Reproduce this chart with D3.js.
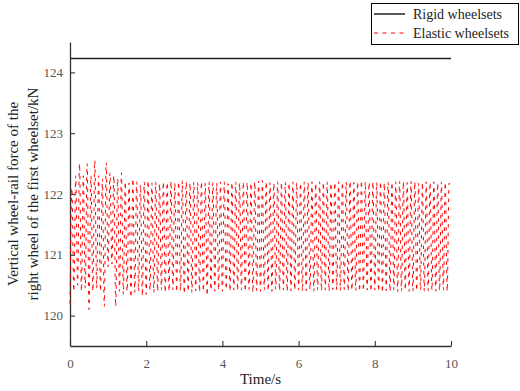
<!DOCTYPE html>
<html>
<head>
<meta charset="utf-8">
<script src="https://cdn.jsdelivr.net/npm/d3@7"></script>
<style>
    body { margin: 0; background: #fff; }
    svg { display: block; }
    svg text { font-family: "Liberation Serif", "Times New Roman", serif; }
</style>
</head>
<body>
<svg width="520" height="391"></svg>
<script>
// Data
const xTicks = [0, 2, 4, 6, 8, 10];
const yTicks = [120, 121, 122, 123, 124];
const seriesNames = ["Rigid wheelsets", "Elastic wheelsets"];

const rigidTime = [0, 10];
const rigidForce = [124.23, 124.23];

// extrema of the elastic wheelset force (troughs and peaks, one row per second)
const elasticTime = [
    0.00, 0.05, 0.10, 0.15, 0.20, 0.25, 0.30, 0.35, 0.40, 0.45, 0.50, 0.55, 0.60, 0.65, 0.70, 0.75, 0.80, 0.85, 0.90, 0.95,
    1.00, 1.05, 1.10, 1.15, 1.20, 1.25, 1.30, 1.35, 1.40, 1.45, 1.50, 1.55, 1.60, 1.65, 1.70, 1.75, 1.80, 1.85, 1.90, 1.95,
    2.00, 2.05, 2.10, 2.15, 2.20, 2.25, 2.30, 2.35, 2.40, 2.45, 2.50, 2.55, 2.60, 2.65, 2.70, 2.75, 2.80, 2.85, 2.90, 2.95,
    3.00, 3.05, 3.10, 3.15, 3.20, 3.25, 3.30, 3.35, 3.40, 3.45, 3.50, 3.55, 3.60, 3.65, 3.70, 3.75, 3.80, 3.85, 3.90, 3.95,
    4.00, 4.05, 4.10, 4.15, 4.20, 4.25, 4.30, 4.35, 4.40, 4.45, 4.50, 4.55, 4.60, 4.65, 4.70, 4.75, 4.80, 4.85, 4.90, 4.95,
    5.00, 5.05, 5.10, 5.15, 5.20, 5.25, 5.30, 5.35, 5.40, 5.45, 5.50, 5.55, 5.60, 5.65, 5.70, 5.75, 5.80, 5.85, 5.90, 5.95,
    6.00, 6.05, 6.10, 6.15, 6.20, 6.25, 6.30, 6.35, 6.40, 6.45, 6.50, 6.55, 6.60, 6.65, 6.70, 6.75, 6.80, 6.85, 6.90, 6.95,
    7.00, 7.05, 7.10, 7.15, 7.20, 7.25, 7.30, 7.35, 7.40, 7.45, 7.50, 7.55, 7.60, 7.65, 7.70, 7.75, 7.80, 7.85, 7.90, 7.95,
    8.00, 8.05, 8.10, 8.15, 8.20, 8.25, 8.30, 8.35, 8.40, 8.45, 8.50, 8.55, 8.60, 8.65, 8.70, 8.75, 8.80, 8.85, 8.90, 8.95,
    9.00, 9.05, 9.10, 9.15, 9.20, 9.25, 9.30, 9.35, 9.40, 9.45, 9.50, 9.55, 9.60, 9.65, 9.70, 9.75, 9.80, 9.85, 9.90, 9.95,
    10.00
];
const elasticForce = [
    120.20, 122.10, 120.40, 122.30, 120.50, 122.50, 120.40, 122.30, 120.45, 122.50, 120.10, 122.30, 120.40, 122.55, 120.45, 122.30, 120.40, 122.25, 120.15, 122.52,
    120.80, 122.35, 120.85, 122.30, 120.15, 122.25, 120.40, 122.35, 120.35, 122.20, 120.40, 122.18, 120.30, 122.25, 120.38, 122.20, 120.40, 122.15, 120.32, 122.20,
    120.35, 122.22, 120.42, 122.18, 120.38, 122.20, 120.40, 122.17, 120.42, 122.20, 120.38, 122.19, 120.40, 122.21, 120.42, 122.18, 120.39, 122.20, 120.41, 122.22,
    120.36, 122.20, 120.40, 122.18, 120.38, 122.20, 120.41, 122.19, 120.39, 122.20, 120.40, 122.18, 120.33, 122.20, 120.42, 122.19, 120.40, 122.18, 120.42, 122.20,
    120.40, 122.20, 120.43, 122.17, 120.40, 122.19, 120.42, 122.20, 120.41, 122.18, 120.42, 122.20, 120.40, 122.19, 120.43, 122.18, 120.38, 122.20, 120.41, 122.21,
    120.40, 122.22, 120.42, 122.20, 120.41, 122.19, 120.40, 122.18, 120.43, 122.20, 120.41, 122.19, 120.42, 122.20, 120.40, 122.18, 120.41, 122.20, 120.42, 122.19,
    120.42, 122.18, 120.40, 122.20, 120.41, 122.19, 120.43, 122.20, 120.40, 122.18, 120.42, 122.20, 120.41, 122.19, 120.42, 122.20, 120.40, 122.18, 120.43, 122.19,
    120.42, 122.20, 120.41, 122.19, 120.43, 122.20, 120.40, 122.21, 120.42, 122.19, 120.41, 122.20, 120.40, 122.22, 120.41, 122.20, 120.42, 122.19, 120.40, 122.20,
    120.42, 122.19, 120.40, 122.20, 120.38, 122.18, 120.41, 122.20, 120.40, 122.19, 120.42, 122.20, 120.39, 122.21, 120.40, 122.20, 120.42, 122.19, 120.40, 122.21,
    120.40, 122.20, 120.41, 122.18, 120.42, 122.19, 120.40, 122.20, 120.41, 122.19, 120.42, 122.20, 120.40, 122.18, 120.41, 122.20, 120.42, 122.19, 120.40, 122.18,
    122.10
];

const svg = d3.select("svg");
const margin = {left: 70, right: 69, top: 42, bottom: 45};
const W = 520, H = 391;
const serif = "'Liberation Serif', 'Times New Roman', serif";

const x = d3.scaleLinear().domain([0, 10]).range([margin.left, W - margin.right]);
const y = d3.scaleLinear().domain([119.5, 124.5]).range([H - margin.bottom, margin.top]);

// - - - - - - axes - - - - - -
const xAxis = svg.append("g")
    .attr("transform", `translate(0,${H - margin.bottom})`)
    .call(d3.axisBottom(x).tickValues(xTicks).tickFormat(d3.format("d"))
        .tickSizeInner(-5).tickSizeOuter(0).tickPadding(13));

const yAxis = svg.append("g")
    .attr("transform", `translate(${margin.left},0)`)
    .call(d3.axisLeft(y).tickValues(yTicks).tickFormat(d3.format("d"))
        .tickSizeInner(-5).tickSizeOuter(0).tickPadding(7));

for (const ax of [xAxis, yAxis]) {
    ax.attr("font-family", serif).attr("font-size", 13);
    ax.select(".domain").attr("stroke", "#333").attr("stroke-width", 1.3);
    ax.selectAll(".tick line").attr("stroke", "#333").attr("stroke-width", 1.1);
    ax.selectAll(".tick text").attr("fill", "#555");
}

// - - - - - - series - - - - - -
svg.append("path")
    .datum(d3.zip(elasticTime, elasticForce))
    .attr("fill", "none")
    .attr("stroke", "#ff0000")
    .attr("stroke-width", 1)
    .attr("stroke-dasharray", "3.5,5")
    .attr("d", d3.line().x(d => x(d[0])).y(d => y(d[1])).curve(d3.curveMonotoneX));

svg.append("path")
    .datum(d3.zip(rigidTime, rigidForce))
    .attr("fill", "none")
    .attr("stroke", "#222")
    .attr("stroke-width", 1.5)
    .attr("d", d3.line().x(d => x(d[0])).y(d => y(d[1])));

// - - - - - - labels - - - - - -
svg.append("text")
    .attr("x", (margin.left + W - margin.right) / 2)
    .attr("y", 384)
    .attr("text-anchor", "middle")
    .attr("fill", "#222")
    .style("font-size", "15px")
    .text("Time/s");

const yLabel = ["Vertical wheel-rail force of the", "right wheel of the first wheelset/kN"];
const yMid = (margin.top + H - margin.bottom) / 2;
yLabel.forEach(function(t, i){
    svg.append("text")
        .attr("transform", `translate(${18 + i * 20},${yMid}) rotate(-90)`)
        .attr("text-anchor", "middle")
        .attr("fill", "#222")
        .style("font-size", "15px")
        .text(t);
});

// - - - - - - legend - - - - - -
const legend = svg.append("g");
legend.append("rect")
    .attr("x", 371.5).attr("y", 3.5)
    .attr("width", 147).attr("height", 41)
    .attr("fill", "#fff")
    .attr("stroke", "#000")
    .attr("stroke-width", 1);

const legendStyle = [
    {color: "#222", dash: null, width: 1.5},
    {color: "#ff0000", dash: "4,4.5", width: 1}
];
seriesNames.forEach(function(name, i){
    const ly = 14 + i * 19;
    legend.append("line")
        .attr("x1", 374).attr("x2", 405)
        .attr("y1", ly).attr("y2", ly)
        .attr("stroke", legendStyle[i].color)
        .attr("stroke-width", legendStyle[i].width)
        .attr("stroke-dasharray", legendStyle[i].dash);
    legend.append("text")
        .attr("x", 413)
        .attr("y", ly + 5)
        .attr("fill", "#222")
        .style("font-size", "14px")
        .text(name);
});
</script>
</body>
</html>
